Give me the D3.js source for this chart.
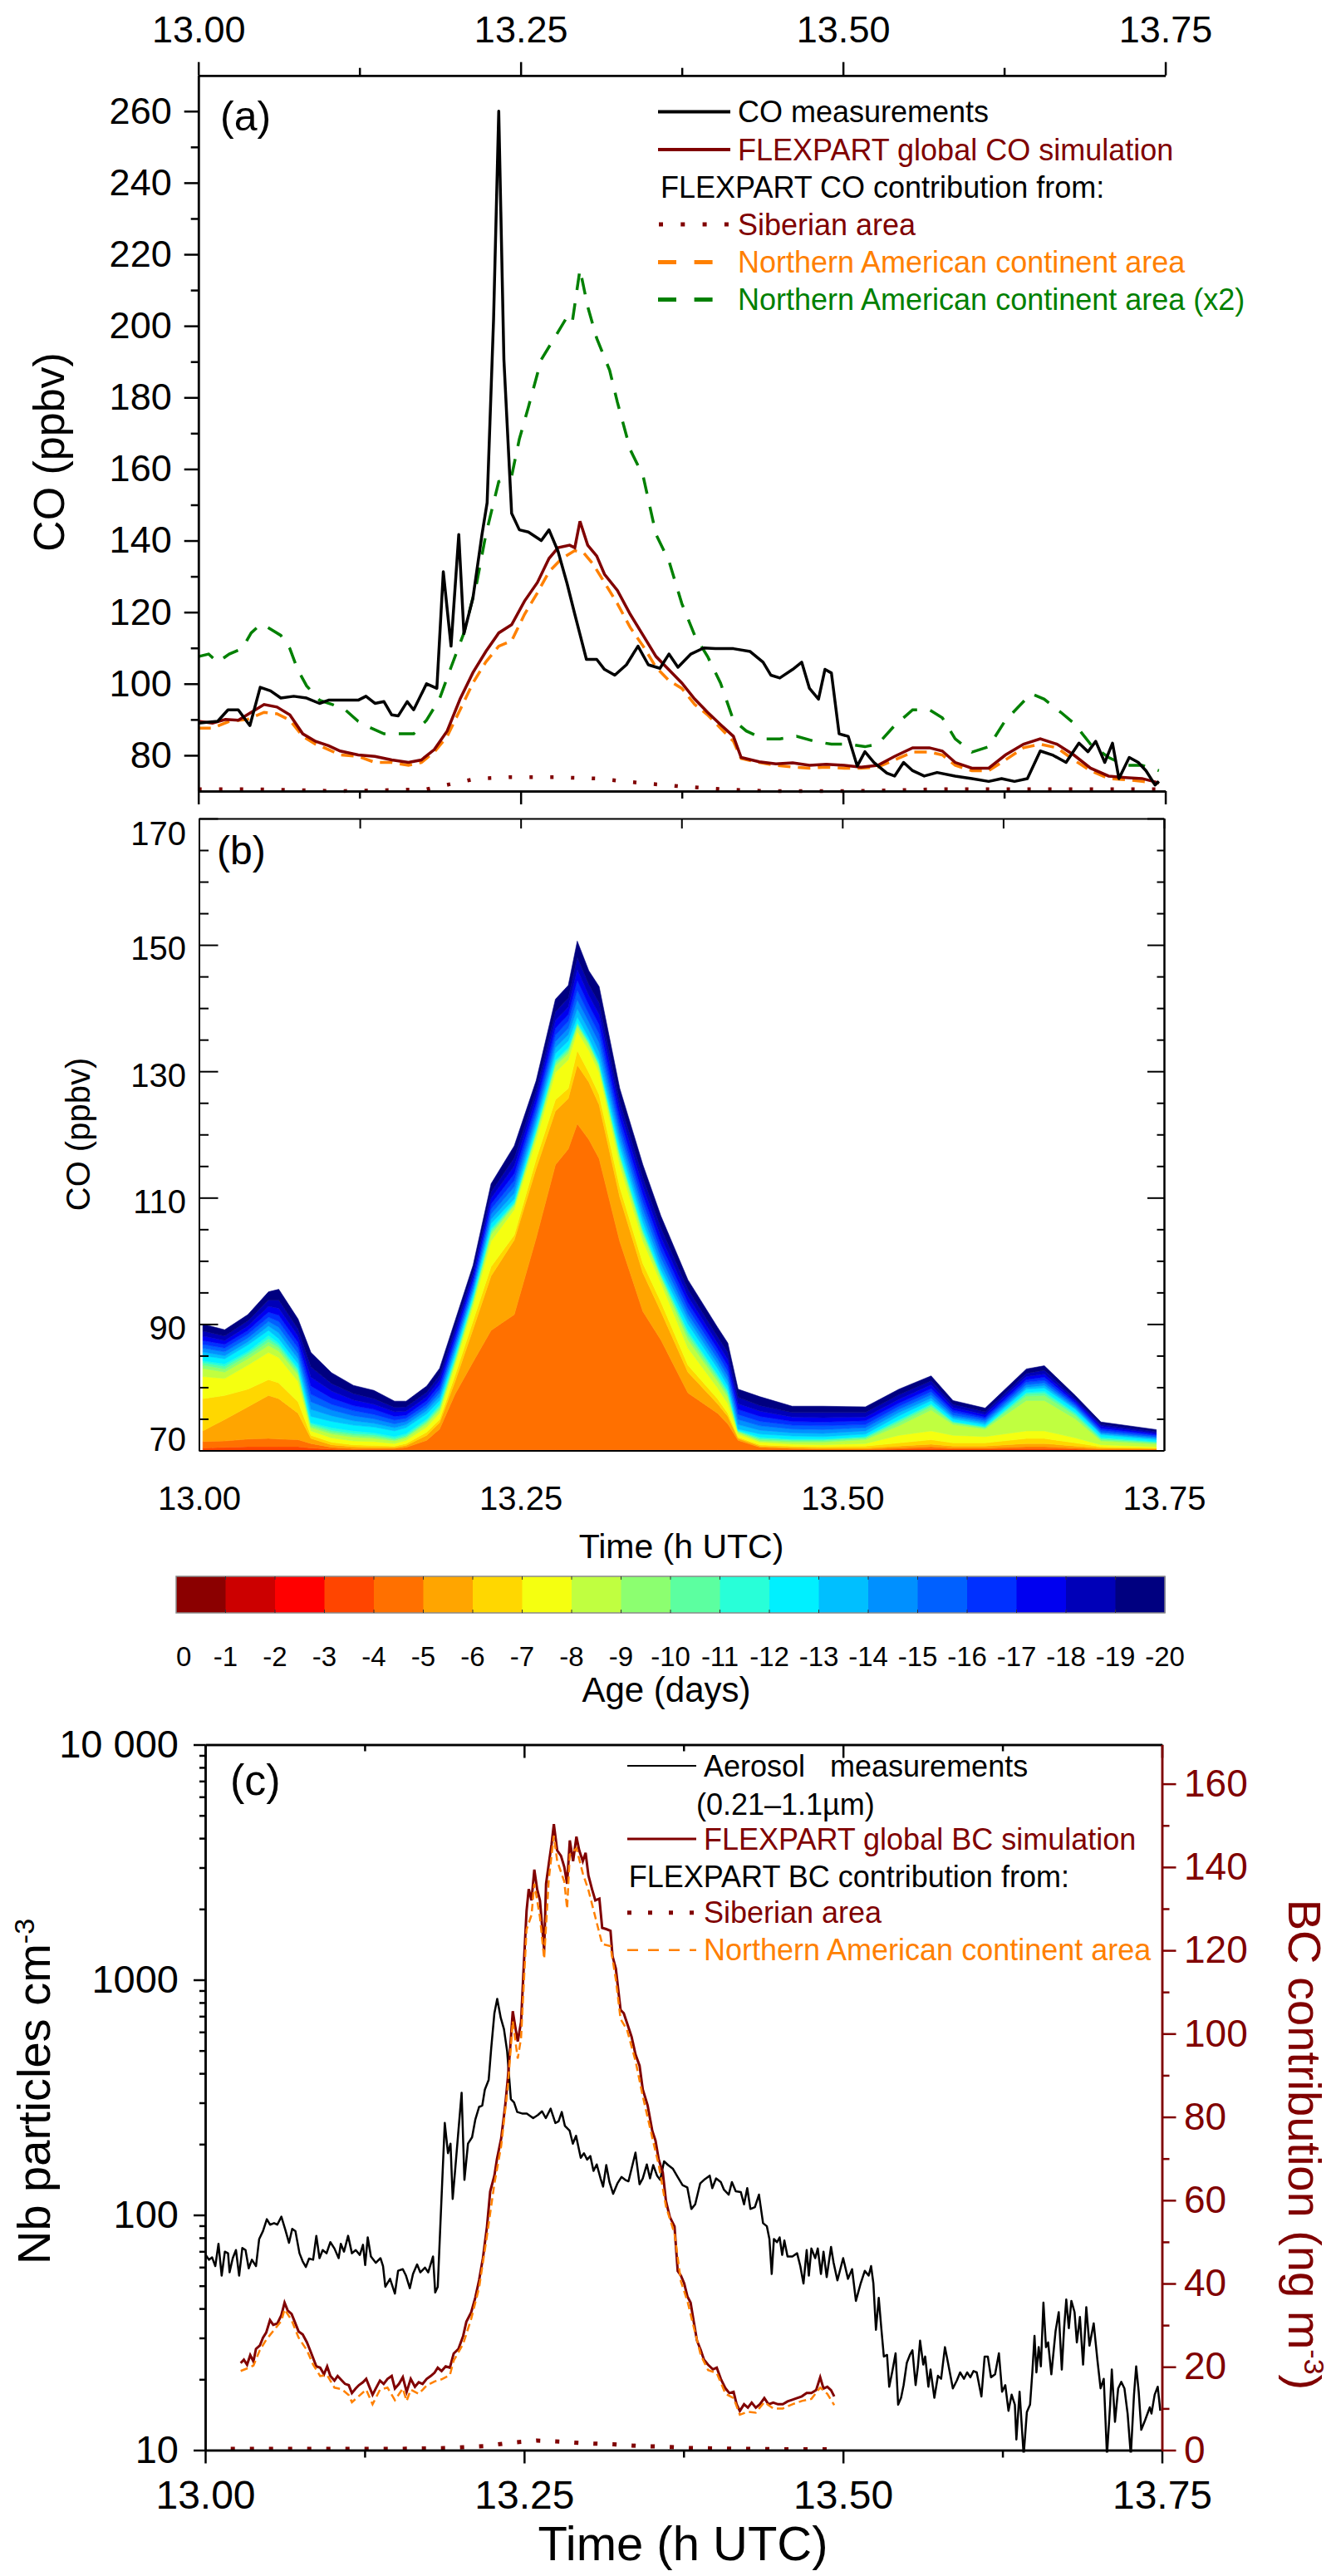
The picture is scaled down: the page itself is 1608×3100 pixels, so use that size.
<!DOCTYPE html>
<html><head><meta charset="utf-8">
<script src="https://cdn.jsdelivr.net/npm/d3@7"></script>
<style>body{margin:0;background:#fff}</style>
</head><body>
<script>
// ---------------- DATA ----------------
// Panel (a): CO (ppbv) vs time (h UTC), [time, value]
const coMeas = [[13.000,89],[13.015,89.5],[13.023,92.7],[13.031,92.7],[13.040,88.3],[13.048,99],[13.056,98],[13.064,96],[13.074,96.5],[13.084,96],[13.094,94.5],[13.101,95.4],[13.110,95.4],[13.124,95.4],[13.130,96.5],[13.137,94.5],[13.144,95],[13.150,91.3],[13.155,91],[13.162,95],[13.167,92.7],[13.177,100],[13.185,98.7],[13.190,131.3],[13.196,110.5],[13.202,141.7],[13.206,114],[13.213,124],[13.220,141.7],[13.224,150.6],[13.229,202],[13.233,260],[13.237,190.6],[13.243,147.6],[13.249,143],[13.256,142.4],[13.266,140],[13.272,143],[13.279,137],[13.286,128],[13.292,119.4],[13.301,106.8],[13.309,106.8],[13.315,104],[13.323,102.4],[13.332,105.3],[13.341,110.5],[13.349,105.3],[13.358,104.3],[13.365,108.3],[13.372,104.6],[13.382,108.3],[13.392,110],[13.401,109.8],[13.415,109.8],[13.428,109],[13.438,106],[13.444,102.4],[13.451,101.6],[13.461,104],[13.468,106],[13.474,98.7],[13.481,95.7],[13.486,104],[13.491,103],[13.497,86],[13.504,85.3],[13.511,77],[13.517,81],[13.524,78],[13.534,75],[13.540,74.2],[13.547,78],[13.554,75.7],[13.563,74.2],[13.573,75.2],[13.587,74.2],[13.600,73.5],[13.613,72.7],[13.623,73.5],[13.633,72.7],[13.643,73.5],[13.653,81.2],[13.663,80],[13.673,78],[13.683,83.4],[13.690,81],[13.696,83.9],[13.703,78],[13.709,83.4],[13.714,73.5],[13.722,79.4],[13.729,78],[13.735,75.7],[13.742,71.7],[13.745,72.7]];
const coGlobalSim = [[13.000,89.5],[13.011,89],[13.021,90],[13.031,89.8],[13.041,92],[13.051,94.2],[13.061,93.5],[13.071,91.3],[13.081,86],[13.091,83.9],[13.101,82.7],[13.110,81.2],[13.124,80.1],[13.137,79.7],[13.150,78.7],[13.163,78],[13.173,78.7],[13.183,81.6],[13.193,86.8],[13.203,95.7],[13.213,103.1],[13.223,109],[13.233,114.2],[13.243,116.5],[13.253,123.1],[13.263,128.3],[13.272,135],[13.279,138],[13.288,138.7],[13.292,138],[13.296,145.4],[13.302,138.7],[13.309,135.7],[13.315,130.6],[13.325,126.1],[13.335,119.4],[13.345,113.5],[13.355,107.6],[13.365,103.9],[13.375,100.2],[13.385,95.7],[13.395,92],[13.405,88.6],[13.415,85.3],[13.421,79.4],[13.435,78.2],[13.448,77.6],[13.461,77.9],[13.474,77.2],[13.487,77.5],[13.501,77.2],[13.514,76.7],[13.527,77.2],[13.540,79.7],[13.554,82.1],[13.567,82.1],[13.577,81.2],[13.587,78],[13.600,76.4],[13.613,76.4],[13.626,80.1],[13.640,83.1],[13.653,84.6],[13.666,83.1],[13.679,80.1],[13.692,76.4],[13.706,74.2],[13.719,73.8],[13.732,73.5],[13.745,72.3]];
const coNorthAm = [[13.000,87.6],[13.011,87.6],[13.024,89.5],[13.038,90],[13.051,92],[13.061,91.6],[13.071,89.8],[13.081,85.3],[13.091,83.1],[13.101,81.6],[13.110,80.1],[13.124,79.7],[13.137,78],[13.150,78],[13.163,77.2],[13.173,78],[13.183,80.9],[13.193,85.3],[13.203,92.7],[13.213,100.2],[13.223,106.1],[13.233,110.5],[13.243,112],[13.253,119.4],[13.263,125.4],[13.272,131.3],[13.282,135],[13.292,137.2],[13.299,136.5],[13.306,133.5],[13.315,128.3],[13.325,122.4],[13.335,115.7],[13.345,110.5],[13.355,104.6],[13.365,100.9],[13.375,98.7],[13.385,94.2],[13.395,91.3],[13.405,87.6],[13.415,83.9],[13.421,79.1],[13.435,78],[13.448,77.2],[13.461,76.7],[13.474,76.4],[13.487,76.7],[13.501,76.4],[13.514,76.4],[13.527,76.7],[13.540,78.7],[13.554,80.9],[13.567,80.9],[13.577,80.1],[13.587,77.2],[13.600,75.7],[13.613,75.7],[13.626,78.7],[13.640,82.1],[13.653,83.1],[13.666,82.1],[13.679,78.7],[13.692,75.7],[13.706,73.5],[13.719,73.2],[13.732,72.7],[13.745,72.3]];
const coNorthAmX2 = [[13.000,107.6],[13.008,108.3],[13.015,106],[13.024,108.3],[13.034,109.8],[13.041,114.2],[13.048,116.5],[13.054,115.7],[13.064,113.5],[13.071,109.8],[13.077,104],[13.084,99.4],[13.094,95.4],[13.104,94.2],[13.114,92.7],[13.124,89.5],[13.134,87.6],[13.144,86],[13.157,86],[13.167,86],[13.177,89.8],[13.187,95.7],[13.196,104.6],[13.206,114.2],[13.216,128.3],[13.223,141.7],[13.233,156.5],[13.243,158],[13.249,168.4],[13.256,177.3],[13.266,190.6],[13.276,196.5],[13.286,202.5],[13.290,201],[13.296,215.8],[13.302,205.4],[13.309,196.5],[13.319,187.6],[13.325,178.7],[13.335,165.4],[13.345,158],[13.355,141.7],[13.365,134.3],[13.375,122.4],[13.385,113.5],[13.395,107.6],[13.405,100.2],[13.415,89.8],[13.425,86.8],[13.438,84.6],[13.451,84.6],[13.464,85.3],[13.478,83.9],[13.491,83.1],[13.504,83.1],[13.517,82.4],[13.527,83.1],[13.540,88.3],[13.554,92.7],[13.567,92.7],[13.577,90.5],[13.587,84.6],[13.600,80.9],[13.613,82.4],[13.626,89.8],[13.640,95],[13.646,97.2],[13.656,95.7],[13.669,92],[13.679,89],[13.692,83.1],[13.706,79.4],[13.719,77.2],[13.732,77.2],[13.745,75.7]];
const coSiberia = [[13.000,70.5],[13.044,70.5],[13.110,70],[13.177,70.5],[13.196,72],[13.216,73.5],[13.243,73.9],[13.276,73.9],[13.309,73.5],[13.342,72.3],[13.375,71.3],[13.408,70.5],[13.441,70],[13.507,70],[13.573,70.5],[13.640,70.5],[13.706,70.5],[13.745,70.5]];

// Panel (b): CO contribution (ppbv above the 70 ppbv base) by age class (days)
const ageTimes = [13.003,13.020,13.038,13.054,13.062,13.077,13.087,13.103,13.120,13.136,13.152,13.161,13.177,13.187,13.199,13.213,13.227,13.245,13.262,13.277,13.287,13.294,13.303,13.311,13.327,13.345,13.359,13.380,13.403,13.411,13.419,13.436,13.461,13.485,13.518,13.544,13.569,13.586,13.611,13.643,13.657,13.681,13.701,13.744];
const ageBase = 70;
const age3  = [.4,.5,.6,.6,.6,.6,.4,.2,.1,.1,.1,.1,.1,.1,.1,.1,.1,.1,.1,.1,.1,.1,.1,.1,.1,.1,.1,.1,.1,.1,.1,.1,.1,.1,.1,.2,.3,.2,.2,.3,.3,.2,.1,.1];
const age4  = [1.0,1.0,1.2,1.3,1.2,1.1,0.7,0.3,0.2,0.2,0.2,0.4,1.5,3.3,8.8,13.9,18.9,21.4,33.5,45.1,47.6,51.6,49.1,46.1,33.0,21.9,17.4,9.0,5.8,4.1,1.5,0.4,0.2,0.1,0.1,0.2,0.3,0.2,0.2,0.3,0.3,0.2,0.1,0.1];
const age5  = [1.7,3.4,5.1,6.8,6.4,4.2,0.8,0.4,0.3,0.2,0.2,0.3,0.8,1.0,2.0,5.2,8.6,11.8,11.0,8.5,8.0,9.3,9.1,8.5,7.0,6.1,4.5,3.3,1.5,1.2,0.3,0.2,0.2,0.2,0.2,0.3,0.4,0.3,0.3,0.5,0.5,0.3,0.2,0.1];
const age6  = [5.1,3.8,2.8,2.5,2.5,1.8,0.5,0.4,0.3,0.3,0.2,0.3,0.5,0.5,1.0,1.3,1.5,0.8,1.5,1.8,1.6,2.3,1.5,1.6,1.6,1.5,1.5,1.1,0.8,0.5,0.2,0.2,0.2,0.2,0.3,0.5,0.7,0.5,0.5,0.8,0.8,0.5,0.2,0.1];
const age7  = [3.5,2.7,3.8,4.3,4.0,3.2,0.7,0.7,0.6,0.6,0.4,0.5,0.8,1.0,1.6,2.3,4.0,4.0,3.0,4.3,4.5,3.0,3.5,3.5,3.5,3.5,3.0,2.7,1.7,1.5,0.5,0.4,0.3,0.3,0.4,1.2,1.4,1.2,1.0,1.2,1.2,0.8,0.3,0.2];
const age8  = [1.3,1.0,1.0,1.1,1.0,1.0,0.5,0.6,0.6,0.5,0.4,0.4,0.5,0.5,0.5,0.7,1.0,0.6,0.9,1.0,1.0,0.8,0.8,0.8,1.0,1.0,0.8,1.3,1.0,1.0,0.3,0.2,0.3,0.4,0.6,1.5,3.3,1.7,1.2,4.8,4.8,3.0,0.6,0.4];
const age9  = [.5,.5,.5,.6,.5,.4,.3,.3,.3,.3,.2,.2,.3,.3,.3,.3,.4,.2,.3,.4,.4,.3,.3,.3,.4,.4,.3,.6,.5,.4,.1,.2,.2,.2,.2,.5,.5,.3,.2,.7,.8,.5,.2,.2];
const age10 = [.4,.4,.4,.5,.4,.4,.3,.3,.3,.3,.2,.2,.2,.3,.3,.2,.3,.2,.2,.3,.3,.2,.2,.2,.3,.3,.2,.5,.4,.4,.1,.2,.2,.2,.2,.3,.3,.1,.1,.4,.4,.3,.2,.1];
const age11 = [.3,.4,.3,.5,.4,.3,.2,.4,.4,.3,.3,.3,.3,.3,.3,.3,.3,.2,.3,.3,.3,.2,.2,.2,.3,.3,.2,.4,.3,.3,.1,.2,.1,.1,.1,.2,.2,.1,.1,.2,.3,.2,.2,.1];
const age12 = [0.8,0.8,1.0,0.8,0.7,0.7,1.0,1.0,0.9,0.9,0.9,0.9,0.8,0.6,0.5,0.5,0.8,0.5,0.7,1.0,1.0,0.8,0.5,0.5,1.0,1.0,0.6,1.0,0.9,0.7,0.2,0.5,0.5,0.4,0.4,0.6,0.5,0.4,0.3,0.5,0.5,0.5,0.4,0.3];
const age13 = [0.6,0.5,0.5,0.7,0.9,0.8,1.1,0.9,0.7,0.6,0.5,0.5,0.5,0.6,0.6,0.5,0.7,0.9,0.8,0.9,1.0,1.3,1.2,1.3,1.0,1.0,0.9,0.8,0.7,0.7,0.7,0.6,0.5,0.5,0.5,0.5,0.4,0.3,0.3,0.3,0.4,0.2,0.2,0.2];
const age14 = [0.6,0.6,0.6,0.7,0.9,0.8,1.2,0.9,0.8,0.7,0.6,0.5,0.5,0.6,0.6,0.5,0.8,1.0,0.8,1.0,1.0,1.4,1.3,1.4,1.1,1.1,1.0,0.8,0.8,0.8,0.8,0.7,0.6,0.6,0.5,0.5,0.5,0.3,0.3,0.4,0.4,0.3,0.2,0.2];
const age15 = [0.6,0.6,0.6,0.7,0.9,0.9,1.2,0.9,0.8,0.7,0.6,0.5,0.5,0.6,0.6,0.6,0.8,1.0,0.9,1.0,1.1,1.5,1.3,1.4,1.1,1.1,1.0,0.9,0.8,0.8,0.8,0.7,0.6,0.6,0.5,0.5,0.5,0.4,0.3,0.4,0.4,0.3,0.3,0.2];
const age16 = [0.6,0.6,0.6,0.8,1.0,0.9,1.3,1.0,0.8,0.8,0.6,0.5,0.6,0.7,0.7,0.6,0.8,1.1,0.9,1.1,1.1,1.6,1.4,1.5,1.2,1.2,1.1,0.9,0.8,0.9,0.8,0.8,0.6,0.6,0.6,0.5,0.5,0.4,0.3,0.4,0.5,0.3,0.3,0.2];
const age17 = [0.7,0.6,0.7,0.9,1.1,1.0,1.4,1.1,0.9,0.8,0.7,0.6,0.6,0.7,0.7,0.6,0.9,1.2,1.0,1.2,1.2,1.7,1.5,1.6,1.3,1.3,1.2,1.0,0.9,1.0,0.9,0.8,0.7,0.7,0.6,0.6,0.6,0.4,0.4,0.5,0.5,0.3,0.3,0.2];
const age18 = [0.8,0.7,0.8,1.0,1.3,1.1,1.6,1.2,1.0,0.9,0.7,0.7,0.7,0.8,0.8,0.7,1.0,1.3,1.1,1.4,1.4,1.9,1.7,1.8,1.4,1.4,1.4,1.1,1.0,1.1,1.0,0.9,0.7,0.8,0.7,0.7,0.6,0.5,0.4,0.5,0.6,0.3,0.3,0.3];
const age19 = [1.1,1.0,1.0,1.3,1.7,1.6,2.3,1.7,1.3,1.3,1.0,0.9,1.0,1.1,1.1,1.0,1.3,1.9,1.5,2.0,2.0,2.6,2.2,2.6,2.0,2.0,1.9,1.5,1.5,1.5,1.3,1.4,1.0,1.0,0.9,0.9,0.8,0.6,0.6,0.7,0.7,0.5,0.4,0.3];
const ageColors = ['#8B0000','#CC0000','#FF0000','#FF4500','#FF7000','#FFA500','#FFD700','#F5FF10','#C0FF40','#8CFF70','#5CFFA0','#28FFD8','#00F0FF','#00BFFF','#0090FF','#0060FF','#0030FF','#0000F0','#0000B8','#000080'];
const ageLabels = ['0','-1','-2','-3','-4','-5','-6','-7','-8','-9','-10','-11','-12','-13','-14','-15','-16','-17','-18','-19','-20'];

// Panel (c): aerosol number (cm-3, log) and BC (ng m-3)
const aerosol = [[13.0004,67.6],[13.0029,64.5],[13.0054,66.0],[13.0079,60.6],[13.0104,75.4],[13.0129,55.2],[13.0154,69.8],[13.0179,68.7],[13.0191,57.0],[13.0216,65.5],[13.0241,70.9],[13.0266,55.2],[13.0291,72.4],[13.0316,70.9],[13.0341,59.3],[13.0366,64.5],[13.0398,60.6],[13.0423,79.0],[13.0453,85.4],[13.0483,95.9],[13.0508,90.9],[13.0540,92.3],[13.0565,90.9],[13.0597,98.3],[13.0627,86.8],[13.0657,76.1],[13.0682,87.3],[13.0707,85.4],[13.0739,68.7],[13.0764,63.5],[13.0789,60.1],[13.0814,65.2],[13.0846,64.5],[13.0871,81.5],[13.0896,65.5],[13.0921,70.9],[13.0951,68.7],[13.0981,76.6],[13.1013,72.0],[13.1046,65.5],[13.1063,75.4],[13.1088,69.8],[13.1120,81.5],[13.1150,68.7],[13.1180,70.9],[13.1212,67.6],[13.1237,74.7],[13.1254,61.2],[13.1274,80.3],[13.1299,66.6],[13.1337,62.6],[13.1374,65.5],[13.1394,60.6],[13.1412,49.5],[13.1449,53.5],[13.1487,46.3],[13.1512,57.9],[13.1549,58.8],[13.1574,55.2],[13.1604,48.8],[13.1629,56.1],[13.1661,61.6],[13.1686,57.0],[13.1723,59.7],[13.1748,57.0],[13.1786,66.6],[13.1803,46.8],[13.1823,49.5],[13.1843,89.5],[13.1860,147],[13.1878,246],[13.1903,183],[13.1923,201],[13.1940,117],[13.1960,157],[13.1985,228],[13.2010,331],[13.2032,141],[13.2060,201],[13.2092,214],[13.2117,254],[13.2147,288],[13.2172,292],[13.2192,341],[13.2222,375],[13.2242,512],[13.2267,721],[13.2289,829],[13.2317,688],[13.2342,617],[13.2367,496],[13.2396,311],[13.2421,301],[13.2446,274],[13.2484,270],[13.2521,270],[13.2571,258],[13.2608,266],[13.2640,276],[13.2670,258],[13.2708,283],[13.2745,246],[13.2770,250],[13.2795,274],[13.2820,239],[13.2857,228],[13.2882,201],[13.2907,217],[13.2944,175],[13.2969,183],[13.2994,172],[13.3019,178],[13.3044,154],[13.3069,164],[13.3099,143],[13.3119,132],[13.3144,163],[13.3169,138],[13.3198,123],[13.3231,136],[13.3263,145],[13.3293,141],[13.3318,139],[13.3348,162],[13.3373,184],[13.3405,135],[13.3430,143],[13.3462,164],[13.3487,143],[13.3512,163],[13.3542,147],[13.3567,141],[13.3597,169],[13.3629,163],[13.3667,157],[13.3704,145],[13.3742,134],[13.3779,131],[13.3811,106],[13.3841,111],[13.3880,136],[13.3917,142],[13.3955,147],[13.3975,130],[13.4005,143],[13.4042,138],[13.4067,128],[13.4104,122],[13.4129,138],[13.4159,126],[13.4199,125],[13.4224,111],[13.4249,130],[13.4274,106],[13.4309,108],[13.4341,122],[13.4373,92.3],[13.4403,89.5],[13.4423,79.0],[13.4441,56.1],[13.4458,79.0],[13.4483,76.6],[13.4503,80.3],[13.4523,67.6],[13.4540,77.8],[13.4565,66.6],[13.4603,66.6],[13.4640,68.7],[13.4665,60.6],[13.4690,51.1],[13.4715,70.9],[13.4732,55.2],[13.4752,72.0],[13.4782,65.5],[13.4802,72.0],[13.4827,56.1],[13.4847,69.8],[13.4872,54.4],[13.4906,73.1],[13.4926,62.6],[13.4956,52.7],[13.5001,65.5],[13.5039,53.5],[13.5071,58.8],[13.5101,43.1],[13.5138,51.1],[13.5171,57.9],[13.5201,55.2],[13.5220,60.6],[13.5238,51.1],[13.5258,32.5],[13.5280,44.4],[13.5300,33.0],[13.5320,25.0],[13.5345,25.4],[13.5362,18.6],[13.5387,21.7],[13.5412,25.8],[13.5432,15.6],[13.5455,16.7],[13.5475,18.9],[13.5500,23.5],[13.5524,25.4],[13.5544,26.6],[13.5569,18.9],[13.5587,22.7],[13.5604,29.2],[13.5629,23.1],[13.5644,25.0],[13.5669,18.6],[13.5686,22.0],[13.5716,16.7],[13.5744,20.7],[13.5769,20.1],[13.5799,27.4],[13.5823,23.5],[13.5861,18.3],[13.5893,19.8],[13.5918,21.4],[13.5948,20.1],[13.5973,21.4],[13.5998,20.4],[13.6023,21.7],[13.6048,21.4],[13.6085,16.9],[13.6110,25.0],[13.6135,25.0],[13.6160,20.4],[13.6192,21.0],[13.6222,25.8],[13.6247,17.7],[13.6272,18.9],[13.6297,14.7],[13.6322,17.2],[13.6347,15.6],[13.6359,11.1],[13.6384,17.7],[13.6416,9.5],[13.6441,14.5],[13.6466,15.6],[13.6484,21.4],[13.6501,30.6],[13.6516,21.4],[13.6534,27.4],[13.6551,22.7],[13.6571,42.4],[13.6591,27.4],[13.6608,28.7],[13.6633,21.0],[13.6666,32.0],[13.6691,38.6],[13.6715,22.0],[13.6733,33.0],[13.6750,43.7],[13.6770,33.0],[13.6790,43.1],[13.6815,38.6],[13.6833,28.7],[13.6857,36.8],[13.6882,23.1],[13.6907,40.5],[13.6932,27.8],[13.6965,34.6],[13.6994,24.2],[13.7019,18.3],[13.7044,20.1],[13.7069,9.5],[13.7094,15.6],[13.7107,22.0],[13.7132,13.2],[13.7157,18.3],[13.7181,19.5],[13.7206,18.3],[13.7231,14.3],[13.7256,9.5],[13.7281,17.2],[13.7298,22.7],[13.7318,17.7],[13.7338,12.2],[13.7368,13.4],[13.7405,15.2],[13.7418,14.3],[13.7443,17.2],[13.7467,18.6],[13.7487,14.7]];
const bcGlobalSim = [[13.0278,20.9],[13.0303,21.7],[13.0328,20.5],[13.0353,22.8],[13.0378,21.3],[13.0398,24.3],[13.0428,25.1],[13.0453,27.0],[13.0478,28.2],[13.0508,31.2],[13.0533,30.1],[13.0565,30.4],[13.0597,32.4],[13.0622,35.4],[13.0647,33.5],[13.0677,32.7],[13.0702,30.8],[13.0732,28.5],[13.0764,27.8],[13.0797,25.9],[13.0822,24.0],[13.0846,22.1],[13.0871,20.1],[13.0901,19.8],[13.0931,18.2],[13.0956,20.1],[13.0981,17.8],[13.1013,16.7],[13.1038,17.8],[13.1071,16.7],[13.1096,15.9],[13.1125,15.6],[13.1150,13.7],[13.1180,14.8],[13.1205,15.6],[13.1237,16.3],[13.1262,17.1],[13.1287,15.2],[13.1312,13.3],[13.1337,14.8],[13.1370,16.7],[13.1399,15.9],[13.1429,17.1],[13.1462,17.8],[13.1487,14.8],[13.1519,15.9],[13.1549,17.5],[13.1579,14.0],[13.1611,17.1],[13.1644,15.2],[13.1674,16.3],[13.1704,15.9],[13.1736,17.1],[13.1768,17.8],[13.1798,18.6],[13.1823,19.8],[13.1853,19.0],[13.1885,20.1],[13.1918,19.8],[13.1948,23.2],[13.1985,24.3],[13.2022,27.4],[13.2047,30.8],[13.2085,33.1],[13.2117,36.6],[13.2147,40.8],[13.2177,46.1],[13.2209,53.7],[13.2234,62.1],[13.2267,65.9],[13.2287,69.9],[13.2320,74.8],[13.2352,82.8],[13.2373,89.5],[13.2396,98.8],[13.2411,105.4],[13.2428,102.1],[13.2450,98.1],[13.2476,102.8],[13.2497,116.1],[13.2519,129.4],[13.2536,134.7],[13.2558,132.0],[13.2580,139.4],[13.2602,134.7],[13.2624,132.0],[13.2657,120.1],[13.2672,136.0],[13.2693,140.7],[13.2715,145.4],[13.2733,150.3],[13.2759,144.0],[13.2789,142.7],[13.2815,140.0],[13.2837,136.0],[13.2858,146.4],[13.2884,141.4],[13.2910,147.3],[13.2932,144.0],[13.2960,141.4],[13.2982,143.4],[13.3004,138.0],[13.3032,134.7],[13.3058,132.0],[13.3090,132.4],[13.3112,125.4],[13.3144,125.1],[13.3177,124.7],[13.3193,118.6],[13.3219,115.6],[13.3256,105.7],[13.3281,104.9],[13.3306,102.6],[13.3343,99.2],[13.3373,95.0],[13.3405,92.3],[13.3430,86.6],[13.3468,82.8],[13.3505,76.6],[13.3530,74.3],[13.3555,69.8],[13.3587,66.7],[13.3612,59.8],[13.3642,56.0],[13.3679,53.7],[13.3704,43.0],[13.3729,41.9],[13.3755,40.0],[13.3780,36.9],[13.3805,35.4],[13.3830,30.8],[13.3855,26.3],[13.3885,24.0],[13.3910,21.7],[13.3942,20.5],[13.3980,19.4],[13.4010,19.8],[13.4042,17.1],[13.4079,14.8],[13.4109,13.7],[13.4142,14.0],[13.4166,11.0],[13.4191,9.4],[13.4224,11.0],[13.4254,10.2],[13.4284,11.4],[13.4316,10.2],[13.4348,11.0],[13.4383,12.5],[13.4416,11.0],[13.4453,11.4],[13.4490,11.0],[13.4528,11.0],[13.4565,11.7],[13.4603,12.1],[13.4640,12.5],[13.4677,12.9],[13.4715,13.7],[13.4752,13.7],[13.4789,14.4],[13.4821,17.5],[13.4847,14.8],[13.4877,15.2],[13.4906,14.4],[13.4931,12.9]];
const bcNorthAm = [[13.0278,19.0],[13.0328,19.6],[13.0378,20.3],[13.0428,24.0],[13.0478,26.5],[13.0533,28.6],[13.0597,31.0],[13.0622,33.8],[13.0677,31.2],[13.0732,27.0],[13.0797,24.0],[13.0846,20.5],[13.0901,17.8],[13.0956,18.0],[13.1013,15.0],[13.1071,14.6],[13.1125,13.2],[13.1150,11.5],[13.1205,13.0],[13.1262,14.5],[13.1312,11.0],[13.1370,14.5],[13.1429,15.0],[13.1487,12.0],[13.1549,14.8],[13.1579,11.8],[13.1611,14.5],[13.1674,13.5],[13.1736,15.5],[13.1798,16.5],[13.1853,17.0],[13.1918,18.0],[13.1948,21.5],[13.2022,25.5],[13.2085,31.5],[13.2147,39.0],[13.2209,51.5],[13.2267,64.0],[13.2320,73.0],[13.2373,87.5],[13.2411,103.0],[13.2450,94.0],[13.2476,99.0],[13.2519,125.0],[13.2558,128.5],[13.2580,136.0],[13.2624,128.0],[13.2657,118.0],[13.2693,137.0],[13.2733,147.5],[13.2759,141.5],[13.2815,136.5],[13.2837,130.0],[13.2858,143.0],[13.2910,144.5],[13.2960,138.5],[13.3004,134.5],[13.3058,128.0],[13.3112,121.5],[13.3177,121.0],[13.3219,113.0],[13.3256,103.5],[13.3306,101.0],[13.3373,93.5],[13.3430,85.0],[13.3505,75.0],[13.3555,68.5],[13.3612,58.5],[13.3679,52.0],[13.3729,40.5],[13.3780,35.8],[13.3830,29.5],[13.3885,22.8],[13.3942,19.2],[13.4010,18.5],[13.4079,13.5],[13.4142,12.5],[13.4191,8.5],[13.4254,9.2],[13.4316,9.0],[13.4383,11.5],[13.4453,10.0],[13.4528,10.0],[13.4603,11.0],[13.4677,11.8],[13.4752,12.3],[13.4821,15.0],[13.4877,13.5],[13.4931,10.8]];
const bcSiberia = [[13.020,0.3],[13.100,0.3],[13.150,0.3],[13.190,0.5],[13.220,1.0],[13.240,1.8],[13.260,2.3],[13.280,2.0],[13.300,1.6],[13.320,1.4],[13.340,1.0],[13.360,0.8],[13.380,0.5],[13.400,0.4],[13.450,0.2],[13.490,0.2]];

const timeMajor = [13.00,13.25,13.50,13.75];
const timeMinor = [13.125,13.375,13.625];
const timeAllB = [13.00,13.125,13.25,13.375,13.50,13.625,13.75];
const coTicksA = [80,100,120,140,160,180,200,220,240,260];
const coMinorA = [90,110,130,150,170,190,210,230,250];
const coTicksB = [70,90,110,130,150,170];
const coMinorB = [75,80,85,95,100,105,115,120,125,135,140,145,155,160,165];
const nbTicks = [10,100,1000,10000];
const nbMinor = [20,30,40,50,60,70,80,90,200,300,400,500,600,700,800,900,2000,3000,4000,5000,6000,7000,8000,9000];
const bcTicks = [0,20,40,60,80,100,120,140,160];
const bcMinor = [10,30,50,70,90,110,130,150];

// ---------------- DRAW ----------------
const FONT = '"Liberation Sans", Arial, Helvetica, sans-serif';
const DR = '#800000', OR = '#FF8000', GR = '#008000';
const svg = d3.select('body').append('svg').attr('width',1608).attr('height',3100).style('display','block');
svg.append('rect').attr('width',1608).attr('height',3100).attr('fill','#fff');
const defs = svg.append('defs');

function mkAxis(gen, values, size, pad, fmt, fs, color, sw, tx, ty) {
  const ax = gen.tickValues(values).tickSize(size).tickSizeOuter(0).tickPadding(pad).tickFormat(fmt || (() => ''));
  const g = svg.append('g').attr('transform', `translate(${tx},${ty})`).call(ax);
  g.select('.domain').attr('stroke', color).attr('stroke-width', sw);
  g.selectAll('.tick line').attr('stroke', color).attr('stroke-width', sw);
  g.selectAll('.tick text').attr('fill', color).style('font-size', fs + 'px').style('font-family', FONT);
  return g;
}
function txt(x, y, s, size, color, anchor) {
  return svg.append('text').attr('x', x).attr('y', y).attr('fill', color || '#000')
    .attr('text-anchor', anchor || 'start').style('font-size', size + 'px').style('font-family', FONT)
    .style('white-space', 'pre').text(s);
}
function clip(id, x0, y0, x1, y1) {
  defs.append('clipPath').attr('id', id).append('rect').attr('x', x0).attr('y', y0).attr('width', x1 - x0).attr('height', y1 - y0);
  return 'url(#' + id + ')';
}
function legLine(x0, x1, y, color, w, dash) {
  const l = svg.append('line').attr('x1', x0).attr('x2', x1).attr('y1', y).attr('y2', y).attr('stroke', color).attr('stroke-width', w);
  if (dash) l.attr('stroke-dasharray', dash);
}
const fmt2 = d3.format('.2f');

// ===== Panel (a) =====
const A = {l:238.7, r:1402.6, t:90.7, b:952};
const xA = d3.scaleLinear().domain([13,13.75]).range([A.l, A.r]);
const yA = d3.scaleLinear().domain([70,270]).range([A.b, A.t]);
const gA = svg.append('g').attr('clip-path', clip('clipA', A.l, A.t, A.r, A.b + 4));
const lineA = d3.line().x(d => xA(d[0])).y(d => yA(d[1]));
gA.append('path').datum(coSiberia).attr('d', lineA).attr('fill','none').attr('stroke',DR).attr('stroke-width',4.5).attr('stroke-dasharray','4,21');
gA.append('path').datum(coNorthAmX2).attr('d', lineA).attr('fill','none').attr('stroke',GR).attr('stroke-width',3.5).attr('stroke-dasharray','20,16');
gA.append('path').datum(coNorthAm).attr('d', lineA).attr('fill','none').attr('stroke',OR).attr('stroke-width',3.5).attr('stroke-dasharray','15,9');
gA.append('path').datum(coGlobalSim).attr('d', lineA).attr('fill','none').attr('stroke',DR).attr('stroke-width',3.5);
gA.append('path').datum(coMeas).attr('d', lineA).attr('fill','none').attr('stroke','#000').attr('stroke-width',3.5).attr('stroke-linejoin','round');

mkAxis(d3.axisTop(xA), timeMajor, 16, 24, fmt2, 45, '#000', 2.5, 0, A.t);
mkAxis(d3.axisTop(xA), timeMinor, 9, 0, null, 10, '#000', 2.5, 0, A.t);
mkAxis(d3.axisBottom(xA), timeMajor, 16, 0, null, 10, '#000', 2.5, 0, A.b);
mkAxis(d3.axisBottom(xA), timeMinor, 9, 0, null, 10, '#000', 2.5, 0, A.b);
mkAxis(d3.axisLeft(yA), coTicksA, 17, 15, d3.format('d'), 45, '#000', 2.5, A.l, 0);
mkAxis(d3.axisLeft(yA), coMinorA, 9, 0, null, 10, '#000', 2.5, A.l, 0);

txt(265, 157, '(a)', 50);
txt(0, 0, 'CO (ppbv)', 52, '#000', 'middle').attr('transform', 'translate(77,544) rotate(-90)');

// legend (a)
const legA = [134.4, 180, 225, 270, 315.4, 360.4];
legLine(792, 879, legA[0], '#000', 4);
txt(888, legA[0] + 12.5, 'CO measurements', 36, '#000');
legLine(792, 879, legA[1], DR, 4);
txt(888, legA[1] + 12.5, 'FLEXPART global CO simulation', 36, DR);
txt(795, legA[2] + 12.5, 'FLEXPART CO contribution from:', 36, '#000');
legLine(793, 880, legA[3], DR, 5, '5,21.3');
txt(888, legA[3] + 12.5, 'Siberian area', 36, DR);
legLine(792, 858, legA[4], OR, 5, '22,21.6');
txt(888, legA[4] + 12.5, 'Northern American continent area', 36, OR);
legLine(792, 858, legA[5], GR, 5, '22,21.6');
txt(888, legA[5] + 12.5, 'Northern American continent area (x2)', 36, GR);

// ===== Panel (b) =====
const B = {l:239.5, r:1401, t:985, b:1745.5};
const xB = d3.scaleLinear().domain([13,13.75]).range([B.l, B.r]);
const yB = d3.scaleLinear().domain([70,170]).range([B.b, B.t]);
const ageSeries = [age3,age4,age5,age6,age7,age8,age9,age10,age11,age12,age13,age14,age15,age16,age17,age18,age19];
const ageKeys = ageSeries.map((_, i) => 'a' + (i + 3));
const ageRows = ageTimes.map((t, j) => { const r = {t}; ageSeries.forEach((s, i) => r[ageKeys[i]] = s[j]); return r; });
const stacked = d3.stack().keys(ageKeys)(ageRows);
const areaB = d3.area().x(d => xB(d.data.t)).y0(d => yB(ageBase + d[0])).y1(d => yB(ageBase + d[1]));
const gB = svg.append('g').attr('clip-path', clip('clipB', B.l, B.t, B.r, B.b));
gB.selectAll('path').data(stacked).join('path').attr('d', areaB)
  .attr('fill', (d, i) => ageColors[i + 3]).attr('stroke', (d, i) => ageColors[i + 3]).attr('stroke-width', 0.6);

mkAxis(d3.axisTop(xB), timeAllB, -12, 0, null, 10, '#000', 2, 0, B.t);
mkAxis(d3.axisBottom(xB), timeMajor, 0, 43, fmt2, 40, '#000', 2, 0, B.b);
const gBL = mkAxis(d3.axisLeft(yB), coTicksB, -23, 15.5, d3.format('d'), 40, '#000', 2, B.l, 0);
gBL.selectAll('.tick text').attr('y', d => d === 70 ? -12.5 : (d === 170 ? 18.6 : 5));
mkAxis(d3.axisLeft(yB), coMinorB, -11.5, 0, null, 10, '#000', 2, B.l, 0);
mkAxis(d3.axisRight(yB), coTicksB, -20, 0, null, 10, '#000', 2, B.r, 0);
mkAxis(d3.axisRight(yB), coMinorB, -8.5, 0, null, 10, '#000', 2, B.r, 0);

txt(261, 1040, '(b)', 48);
txt(0, 0, 'CO (ppbv)', 40, '#000', 'middle').attr('transform', 'translate(108,1365) rotate(-90)');
txt(820, 1875, 'Time (h UTC)', 41, '#000', 'middle');

// colour bar
const cb = d3.scaleLinear().domain([0,20]).range([212,1402]);
svg.append('g').selectAll('rect').data(d3.range(20)).join('rect')
  .attr('x', i => cb(i)).attr('width', i => cb(i + 1) - cb(i) + 0.5)
  .attr('y', 1897).attr('height', 44).attr('fill', i => ageColors[i]);
svg.append('rect').attr('x', 212).attr('y', 1897).attr('width', 1190).attr('height', 44).attr('fill','none').attr('stroke','#8a8a8a').attr('stroke-width',1.5);
const cbTicks = svg.append('g').attr('stroke', '#333').attr('stroke-width', 1);
cbTicks.selectAll('line.t').data(d3.range(1,20)).join('line').attr('class','t')
  .attr('x1', i => cb(i)).attr('x2', i => cb(i)).attr('y1', 1897).attr('y2', 1901);
cbTicks.selectAll('line.b').data(d3.range(1,20)).join('line').attr('class','b')
  .attr('x1', i => cb(i)).attr('x2', i => cb(i)).attr('y1', 1937).attr('y2', 1941);
svg.append('g').selectAll('text').data(ageLabels).join('text')
  .attr('x', (d, i) => cb(i)).attr('y', 2005)
  .attr('text-anchor', (d, i) => i === 0 ? 'start' : 'middle')
  .style('font-size', '33px').style('font-family', FONT).text(d => d);
txt(802, 2048, 'Age (days)', 42, '#000', 'middle');

// ===== Panel (c) =====
const C = {l:247, r:1398.5, t:2099.5, b:2948.5};
const xC = d3.scaleLinear().domain([13,13.75]).range([C.l, C.r]);
const yCL = d3.scaleLog().domain([10,10000]).range([C.b, C.t]);
const yCR = d3.scaleLinear().domain([0,169.4]).range([C.b, C.t]);
const gC = svg.append('g').attr('clip-path', clip('clipC', C.l, C.t, C.r, C.b + 3));
gC.append('path').datum(aerosol).attr('d', d3.line().x(d => xC(d[0])).y(d => yCL(d[1])))
  .attr('fill','none').attr('stroke','#000').attr('stroke-width',2.5).attr('stroke-linejoin','round');
const lineCR = d3.line().x(d => xC(d[0])).y(d => yCR(d[1]));
gC.append('path').datum(bcGlobalSim).attr('d', lineCR).attr('fill','none').attr('stroke',DR).attr('stroke-width',3);
gC.append('path').datum(bcNorthAm).attr('d', lineCR).attr('fill','none').attr('stroke',OR).attr('stroke-width',2.5).attr('stroke-dasharray','9,5');
gC.append('path').datum(bcSiberia).attr('d', lineCR).attr('fill','none').attr('stroke',DR).attr('stroke-width',5).attr('stroke-dasharray','5,18');

mkAxis(d3.axisTop(xC), timeMajor, -16, 0, null, 10, '#000', 2.5, 0, C.t);
mkAxis(d3.axisTop(xC), timeMinor, -8, 0, null, 10, '#000', 2.5, 0, C.t);
mkAxis(d3.axisBottom(xC), timeMajor, 16, 20.5, fmt2, 48, '#000', 2.5, 0, C.b);
mkAxis(d3.axisBottom(xC), timeMinor, 9, 0, null, 10, '#000', 2.5, 0, C.b);
mkAxis(d3.axisLeft(yCL), nbTicks, 14, 18, d => d === 10000 ? '10 000' : String(d), 47, '#000', 2.5, C.l, 0);
mkAxis(d3.axisLeft(yCL), nbMinor, 7, 0, null, 10, '#000', 2.5, C.l, 0);
mkAxis(d3.axisRight(yCR), bcTicks, 17, 9.5, d3.format('d'), 46, DR, 2.5, C.r, 0);
mkAxis(d3.axisRight(yCR), bcMinor, 9, 0, null, 10, DR, 2.5, C.r, 0);

txt(277, 2160, '(c)', 52);
const tNb = txt(0, 0, 'Nb particles cm', 56, '#000', 'middle').attr('transform', 'translate(60,2517) rotate(-90)');
tNb.append('tspan').attr('baseline-shift', 'super').style('font-size', '34px').text('-3');
const tBc = txt(0, 0, 'BC contribution (ng m', 56, DR, 'middle').attr('transform', 'translate(1551,2581) rotate(90)');
tBc.append('tspan').attr('baseline-shift', 'super').style('font-size', '34px').text('-3');
tBc.append('tspan').text(')');
txt(822, 3081, 'Time (h UTC)', 58, '#000', 'middle');

// legend (c)
const legC = [2125, 2171.7, 2213, 2258, 2301.7, 2346.7];
legLine(755, 838, legC[0], '#000', 2);
txt(847, legC[0] + 12.5, 'Aerosol   measurements', 36, '#000');
txt(838, legC[1] + 12.5, '(0.21\u20131.1\u00b5m)', 36, '#000');
legLine(755, 838, legC[2], DR, 3);
txt(847, legC[2] + 12.5, 'FLEXPART global BC simulation', 36, DR);
txt(756.7, legC[3] + 12.5, 'FLEXPART BC contribution from:', 36, '#000');
legLine(755, 838, legC[4], DR, 5, '5,20');
txt(847, legC[4] + 12.5, 'Siberian area', 36, DR);
legLine(755, 838, legC[5], OR, 2.5, '13,12');
txt(847, legC[5] + 12.5, 'Northern American continent area', 36, OR);
</script>
</body></html>
